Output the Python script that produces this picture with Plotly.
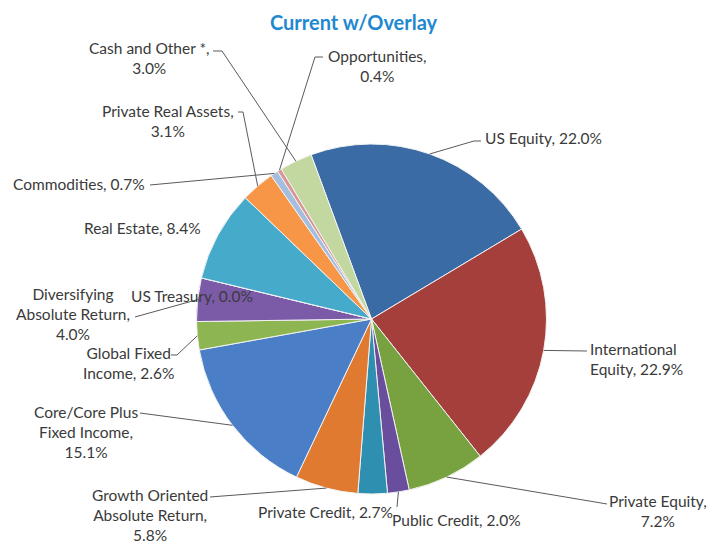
import math
import plotly.graph_objects as go

# ---- data ----
categories = ["US Equity", "International Equity", "Private Equity", "Public Credit",
              "Private Credit", "Growth Oriented Absolute Return", "Core/Core Plus Fixed Income",
              "Global Fixed Income", "Diversifying Absolute Return", "US Treasury",
              "Real Estate", "Private Real Assets", "Commodities", "Opportunities",
              "Cash and Other *"]
values = [22.0, 22.9, 7.2, 2.0, 2.7, 5.8, 15.1, 2.6, 4.0, 0.0, 8.4, 3.1, 0.7, 0.4, 3.0]
label_texts = ["US Equity, 22.0%", "International<br>Equity, 22.9%", "Private Equity,<br>7.2%",
               "Public Credit, 2.0%", "Private Credit, 2.7%",
               "Growth Oriented<br>Absolute Return,<br>5.8%",
               "Core/Core Plus<br>Fixed Income,<br>15.1%", "Global Fixed<br>Income, 2.6%",
               "Diversifying<br>Absolute Return,<br>4.0%", "US Treasury, 0.0%",
               "Real Estate, 8.4%", "Private Real Assets,<br>3.1%", "Commodities, 0.7%",
               "Opportunities,<br>0.4%", "Cash and Other *,<br>3.0%"]
colors = ["#3B6BA5", "#A53F3C", "#78A23F", "#6A4E9E", "#2E8FB0", "#E07A30", "#4A7FC8",
          "#8DB653", "#7B5BA8", "#4FA8C8", "#46ABCB", "#F79646", "#A3BEDF", "#D99694", "#C3D8A0"]

# page offset (browser body margin) compensation
OFF = 8
W, H = 715 - OFF, 546 - OFF
CX, CY, R = 371.5, 319.0, 175.0
ROT = -20.2


def px_x(px):
    return (px - OFF) / W


def px_y(py):
    return 1 - (py - OFF) / H


# label layout: (x px, y px, xanchor, align, leader start points in px)
label_layout = [
    (483, 138, "left", "left", [(481, 141), (474, 141)]),
    (588, 359, "left", "left", [(587, 351)]),
    (658, 511, "center", "center", [(607, 504)]),
    (390, 520, "left", "left", [(397, 507)]),
    (325, 512, "center", "center", None),
    (150, 515, "center", "center", [(210, 497)]),
    (86, 432, "center", "center", [(140, 413)]),
    (128, 363, "center", "center", [(171, 355), (177, 355)]),
    (73, 314, "center", "center", [(135, 317)]),
    (192, 296, "center", "center", None),
    (142, 228, "center", "center", None),
    (168, 121, "center", "center", [(238, 112), (243, 112)]),
    (147, 184, "right", "right", [(150, 185)]),
    (377, 66, "center", "center", [(323, 57), (315, 57)]),
    (149, 58, "center", "center", [(213, 51), (222, 51)]),
]

fig = go.Figure(go.Pie(
    labels=categories, values=values, sort=False, direction="clockwise",
    rotation=ROT, textinfo="none", hoverinfo="label+percent",
    marker=dict(colors=colors, line=dict(color="#F2F2F2", width=1)),
    domain=dict(x=[px_x(CX - R), px_x(CX + R)], y=[px_y(CY + R), px_y(CY - R)]),
    showlegend=False,
))

total = sum(values)
cum = 0.0
shapes = []
annotations = []
for v, txt, (lx, ly, xa, al, lead) in zip(values, label_texts, label_layout):
    mid = cum + v / 2
    cum += v
    ang = math.radians(ROT + 360 * mid / total)
    ex, ey = CX + R * math.sin(ang), CY - R * math.cos(ang)
    if lead:
        pts = lead + [(ex, ey)]
        path = "M " + " L ".join(f"{px_x(a):.5f},{px_y(b):.5f}" for a, b in pts)
        shapes.append(dict(type="path", xref="paper", yref="paper", path=path,
                           line=dict(color="#5A5A5A", width=1)))
    annotations.append(dict(text=txt, x=px_x(lx), y=px_y(ly), xref="paper", yref="paper",
                            xanchor=xa, yanchor="middle", align=al, showarrow=False,
                            font=dict(family="Lato", size=15.5, color="#3A3A3A")))

annotations.append(dict(text="<b>Current w/Overlay</b>", x=px_x(354), y=1.0,
                        xref="paper", yref="paper", xanchor="center", yanchor="top",
                        showarrow=False, font=dict(family="Lato", size=20, color="#1F88D0")))

fig.update_layout(width=W, height=H, margin=dict(l=0, r=0, t=0, b=0),
                  paper_bgcolor="white", plot_bgcolor="white",
                  shapes=shapes, annotations=annotations)

fig.write_html("out.html")
